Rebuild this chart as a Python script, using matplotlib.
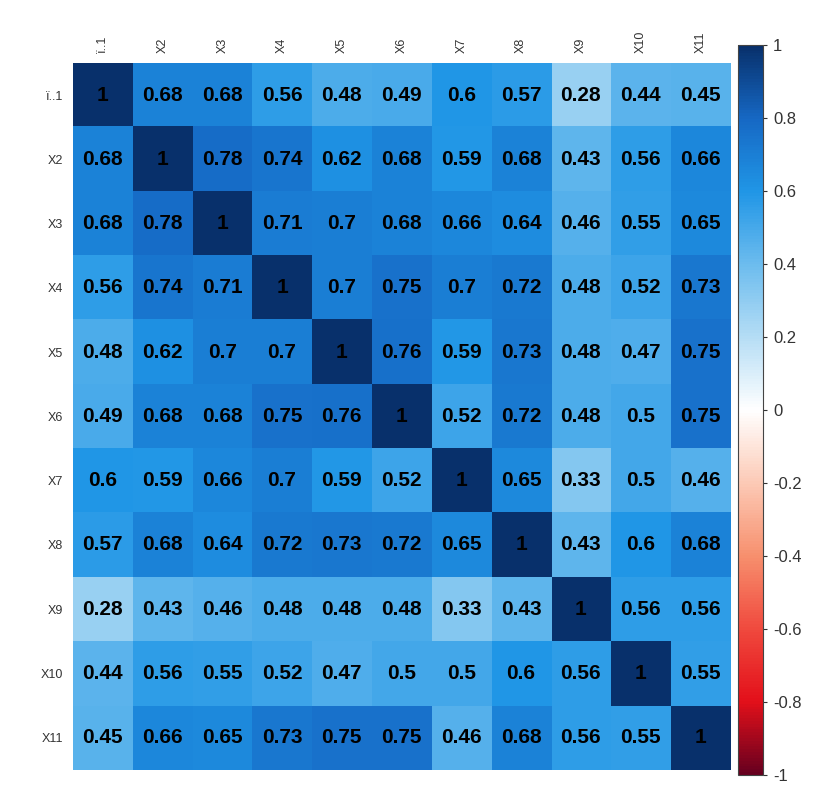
import numpy as np
import matplotlib
matplotlib.use("Agg")
import matplotlib.pyplot as plt
from matplotlib.colors import LinearSegmentedColormap

labels = ["ï..1", "X2", "X3", "X4", "X5", "X6", "X7", "X8", "X9", "X10", "X11"]

row_1 = [1, 0.68, 0.68, 0.56, 0.48, 0.49, 0.6, 0.57, 0.28, 0.44, 0.45]
row_2 = [0.68, 1, 0.78, 0.74, 0.62, 0.68, 0.59, 0.68, 0.43, 0.56, 0.66]
row_3 = [0.68, 0.78, 1, 0.71, 0.7, 0.68, 0.66, 0.64, 0.46, 0.55, 0.65]
row_4 = [0.56, 0.74, 0.71, 1, 0.7, 0.75, 0.7, 0.72, 0.48, 0.52, 0.73]
row_5 = [0.48, 0.62, 0.7, 0.7, 1, 0.76, 0.59, 0.73, 0.48, 0.47, 0.75]
row_6 = [0.49, 0.68, 0.68, 0.75, 0.76, 1, 0.52, 0.72, 0.48, 0.5, 0.75]
row_7 = [0.6, 0.59, 0.66, 0.7, 0.59, 0.52, 1, 0.65, 0.33, 0.5, 0.46]
row_8 = [0.57, 0.68, 0.64, 0.72, 0.73, 0.72, 0.65, 1, 0.43, 0.6, 0.68]
row_9 = [0.28, 0.43, 0.46, 0.48, 0.48, 0.48, 0.33, 0.43, 1, 0.56, 0.56]
row_10 = [0.44, 0.56, 0.55, 0.52, 0.47, 0.5, 0.5, 0.6, 0.56, 1, 0.55]
row_11 = [0.45, 0.66, 0.65, 0.73, 0.75, 0.75, 0.46, 0.68, 0.56, 0.55, 1]

corr = np.array([row_1, row_2, row_3, row_4, row_5, row_6,
                 row_7, row_8, row_9, row_10, row_11])
n = len(labels)

# red -> white -> blue ramp, roughly like the corrplot one in the picture
cmap = LinearSegmentedColormap.from_list("rdwbu", [
    (0.0, "#67001f"), (0.1, "#e3101a"), (0.2, "#f04a3e"), (0.3, "#f7906e"),
    (0.4, "#fccab6"), (0.5, "#ffffff"), (0.6, "#b5ddf5"), (0.7, "#6cbcee"),
    (0.8, "#2096e6"), (0.9, "#1668c4"), (1.0, "#08306b")])

plt.rcParams["font.family"] = ["Liberation Sans", "DejaVu Sans"]

fig = plt.figure(figsize=(8.28, 7.86), dpi=100)
ax = fig.add_axes([0.088, 0.0204, 0.794, 0.8996])
im = ax.imshow(corr, cmap=cmap, vmin=-1, vmax=1, aspect="auto",
               interpolation="nearest")

for i in range(n):
    for j in range(n):
        ax.text(j, i, f"{corr[i, j]:g}", ha="center", va="center",
                fontsize=15, fontweight="bold", color="black")

ax.set_xticks(range(n))
ax.set_yticks(range(n))
ax.set_xticklabels(labels, rotation=90, fontsize=9, color="#333333")
ax.set_yticklabels(labels, fontsize=9, color="#333333")
ax.xaxis.tick_top()
ax.tick_params(length=0, pad=7)
for s in ax.spines.values():
    s.set_visible(False)

cax = fig.add_axes([0.891, 0.014, 0.031, 0.929])
cb = fig.colorbar(im, cax=cax, ticks=np.linspace(-1, 1, 11))
cb.ax.set_yticklabels(["-1", "-0.8", "-0.6", "-0.4", "-0.2", "0",
                       "0.2", "0.4", "0.6", "0.8", "1"])
cb.ax.tick_params(labelsize=12, labelcolor="#333333", length=3,
                  color="#333333", direction="out", pad=4)
cb.outline.set_edgecolor("#444444")

fig.savefig("out.png", dpi=100)
